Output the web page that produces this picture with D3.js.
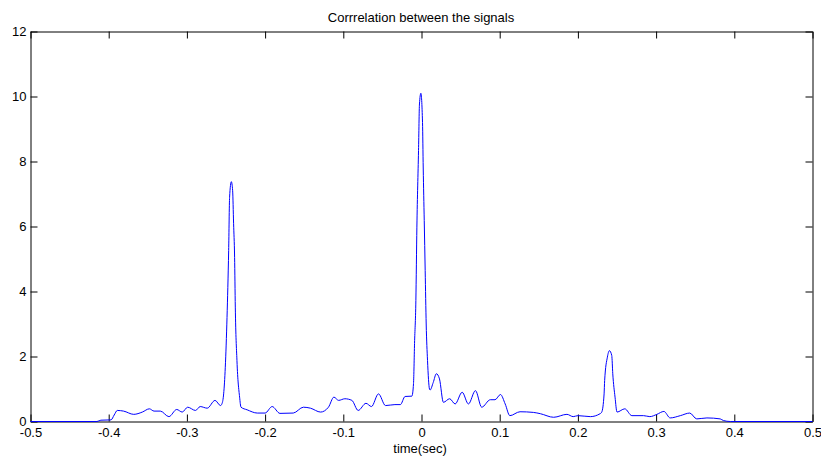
<!DOCTYPE html>
<html>
<head>
<meta charset="utf-8">
<script src="https://cdn.jsdelivr.net/npm/d3@7"></script>
<style>
  body { margin: 0; background: #fff; }
  svg { display: block; font-family: Arial, "Liberation Sans", sans-serif; }
</style>
</head>
<body>
<svg width="821" height="457"></svg>
<script>
const margin = { top: 31, right: 8, bottom: 36, left: 30 };
const W = 821, H = 457;

// time lags (sec) and correlation values
const timeSec = [
  -0.5, -0.415, -0.41, -0.397, -0.393, -0.389, -0.381, -0.368, -0.357, -0.348, -0.342,
  -0.334, -0.323, -0.313, -0.306, -0.299, -0.289, -0.283, -0.274, -0.264, -0.257, -0.2551,
  -0.253, -0.2509, -0.2487, -0.2466, -0.2454, -0.2432, -0.2415, -0.2403, -0.239, -0.2381,
  -0.236, -0.2326, -0.2308, -0.223, -0.21, -0.2, -0.191, -0.181, -0.164, -0.151, -0.142,
  -0.129, -0.119, -0.112, -0.106, -0.098, -0.089, -0.081, -0.071, -0.064, -0.055, -0.046,
  -0.034, -0.027, -0.021, -0.0123, -0.0102, -0.0089, -0.0072, -0.0059, -0.0038, -0.0026,
  -0.0008, 0.0013, 0.0022, 0.0035, 0.0047, 0.006, 0.0077, 0.0102, 0.011, 0.015, 0.019,
  0.023, 0.028, 0.036, 0.043, 0.052, 0.06, 0.069, 0.077, 0.088, 0.094, 0.101, 0.107,
  0.113, 0.126, 0.143, 0.152, 0.169, 0.186, 0.194, 0.2, 0.216, 0.2284, 0.2305, 0.2335,
  0.2342, 0.2377, 0.2403, 0.2433, 0.2446, 0.2475, 0.25, 0.26, 0.269, 0.284, 0.292, 0.301,
  0.31, 0.318, 0.331, 0.343, 0.352, 0.365, 0.382, 0.386, 0.395, 0.5
];
const corr = [
  0, 0, 0.04, 0.05, 0.2, 0.34, 0.32, 0.22, 0.29, 0.39, 0.32,
  0.32, 0.15, 0.37, 0.29, 0.44, 0.34, 0.46, 0.41, 0.65, 0.49, 0.55,
  0.85, 1.67, 3.2, 5.26, 6.9, 7.38, 7.1, 6.1, 5.05, 3.52,
  1.88, 0.75, 0.44, 0.36, 0.26, 0.26, 0.46, 0.25, 0.26, 0.44, 0.41,
  0.29, 0.44, 0.75, 0.65, 0.70, 0.65, 0.34, 0.56, 0.46, 0.85, 0.49,
  0.52, 0.52, 0.77, 0.78, 1.17, 2.4, 3.72, 5.98, 8.34, 9.77,
  10.1, 9.2, 7.8, 6.18, 4.65, 3.0, 1.88, 1.0, 0.97, 1.2, 1.47,
  1.31, 0.59, 0.70, 0.54, 0.90, 0.54, 0.95, 0.44, 0.67, 0.67, 0.83, 0.54,
  0.18, 0.30, 0.28, 0.24, 0.13, 0.22, 0.15, 0.18, 0.15, 0.24, 0.29, 0.85,
  1.26, 1.98, 2.18, 2.03, 1.47, 0.75, 0.29, 0.39, 0.18, 0.18, 0.15, 0.22,
  0.31, 0.11, 0.18, 0.26, 0.08, 0.11, 0.08, 0.03, 0, 0
];
const xTicks = [-0.5, -0.4, -0.3, -0.2, -0.1, 0, 0.1, 0.2, 0.3, 0.4, 0.5];
const yTicks = [0, 2, 4, 6, 8, 10, 12];

const svg = d3.select("svg");

const x = d3.scaleLinear()
    .domain([-0.5, 0.5])
    .range([margin.left + 0.5, W - margin.right - 0.5]);

const y = d3.scaleLinear()
    .domain([0, 12])
    .range([H - margin.bottom + 0.5, margin.top + 0.5]);

// plain hyphen for negatives, like the original plot
const fmt = d => String(+d.toFixed(1));

// bottom axis with labels, ticks pointing inward
svg.append("g")
    .attr("transform", "translate(0," + (H - margin.bottom + 0.5) + ")")
    .call(d3.axisBottom(x).tickValues(xTicks).tickSizeInner(-7).tickSizeOuter(0)
        .tickPadding(6).tickFormat(fmt))
    .call(g => g.selectAll("text").attr("font-size", 13).attr("fill", "#000"));

// left axis
svg.append("g")
    .attr("transform", "translate(" + (margin.left + 0.5) + ",0)")
    .call(d3.axisLeft(y).tickValues(yTicks).tickSizeInner(-7).tickSizeOuter(0)
        .tickPadding(4).tickFormat(d => String(d)))
    .call(g => g.selectAll("text").attr("font-size", 13).attr("fill", "#000"));

// mirrored ticks on top and right
svg.append("g")
    .attr("transform", "translate(0," + (margin.top + 0.5) + ")")
    .call(d3.axisTop(x).tickValues(xTicks).tickSizeInner(-7).tickSizeOuter(0).tickFormat(""));

svg.append("g")
    .attr("transform", "translate(" + (W - margin.right - 0.5) + ",0)")
    .call(d3.axisRight(y).tickValues(yTicks).tickSizeInner(-7).tickSizeOuter(0).tickFormat(""));

svg.selectAll(".domain, .tick line").attr("stroke", "#000");

// the correlation curve
const line = d3.line()
    .x((d, i) => x(timeSec[i]))
    .y(d => y(d))
    .curve(d3.curveMonotoneX);

svg.append("path")
    .datum(corr)
    .attr("fill", "none")
    .attr("stroke", "#0000ff")
    .attr("stroke-width", 1)
    .attr("d", line);

// title and x label
svg.append("text")
    .attr("x", 421)
    .attr("y", 21.5)
    .attr("text-anchor", "middle")
    .attr("font-size", 13)
    .text("Corrrelation between the signals");

svg.append("text")
    .attr("x", 420)
    .attr("y", 453)
    .attr("text-anchor", "middle")
    .attr("font-size", 13)
    .text("time(sec)");
</script>
</body>
</html>
